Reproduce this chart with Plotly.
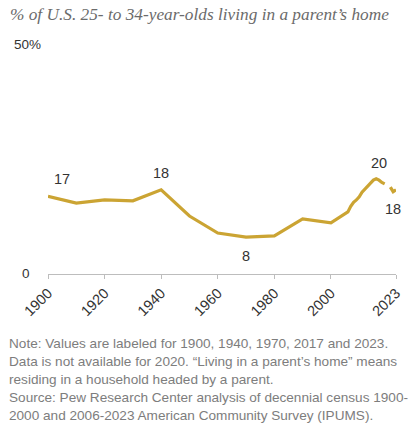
import plotly.graph_objects as go

years = [1900, 1910, 1920, 1930, 1940, 1950, 1960, 1970, 1980, 1990, 2000,
         2006, 2007, 2008, 2009, 2010, 2011, 2012, 2013, 2014, 2015, 2016,
         2017, 2018, 2019, 2020, 2021, 2022, 2023]
share = [16.9, 15.4, 16.1, 15.9, 18.3, 12.6, 8.9, 8.0, 8.3, 12.0, 11.1,
         13.5, 14.7, 15.6, 16.1, 16.8, 17.8, 18.5, 19.2, 19.9, 20.4, 20.7,
         20.4, 19.9, 19.6, None, 18.9, 17.9, 18.3]
label_years = [1900, 1940, 1970, 2017, 2023]
label_text = ["17", "18", "8", "20", "18"]
label_pos = ["above", "above", "below", "above", "below"]
tick_years = [1900, 1920, 1940, 1960, 1980, 2000, 2023]
tick_text = [str(t) for t in tick_years]
title = "% of U.S. 25- to 34-year-olds living in a parent\u2019s home"
notes = [
    "Note: Values are labeled for 1900, 1940, 1970, 2017 and 2023.",
    "Data is not available for 2020. \u201cLiving in a parent\u2019s home\u201d means",
    "residing in a household headed by a parent.",
    "Source: Pew Research Center analysis of decennial census 1900-",
    "2000 and 2006-2023 American Community Survey (IPUMS).",
]

W, H = 415, 426
L, R, T, B = 48, 13, 44, 152
PW, PH = W - L - R, H - T - B


def px(x):
    return (x - L) / PW


def py(y):
    return (H - B - y) / PH


GOLD = "#CBA433"
SANS = "Liberation Sans, Arial, sans-serif"

fig = go.Figure()
fig.add_trace(go.Scatter(
    x=years, y=share, mode="lines", connectgaps=False,
    line=dict(color=GOLD, width=3.2), hoverinfo="skip", showlegend=False,
))

ann = []
for yr, txt, pos in zip(label_years, label_text, label_pos):
    v = share[years.index(yr)]
    ann.append(dict(x=yr, y=v, xref="x", yref="y", text=txt, showarrow=False,
                    yshift=17 if pos == "above" else -19,
                    xshift=14 if yr == 1900 else (-3 if yr == 2023 else 0),
                    font=dict(family=SANS, size=14.5, color="#333333")))

ann.append(dict(x=px(7), y=py(14), xref="paper", yref="paper", text="<i>" + title + "</i>",
                showarrow=False, xanchor="left", yanchor="middle",
                font=dict(family="Liberation Serif, serif", size=17.3, color="#6b6b6b")))
ann.append(dict(x=px(11), y=py(45), xref="paper", yref="paper", text="50%",
                showarrow=False, xanchor="left", yanchor="middle",
                font=dict(family=SANS, size=13.5, color="#333333")))
ann.append(dict(x=px(32), y=py(273), xref="paper", yref="paper", text="0",
                showarrow=False, xanchor="right", yanchor="middle",
                font=dict(family=SANS, size=13.5, color="#333333")))
for i, line in enumerate(notes):
    ann.append(dict(x=px(6), y=py(343 + 18 * i), xref="paper", yref="paper", text=line,
                    showarrow=False, xanchor="left", yanchor="middle",
                    font=dict(family=SANS, size=13.6, color="#7d7d7d")))

fig.update_layout(
    width=W, height=H,
    margin=dict(l=L, r=R, t=T, b=B, pad=0),
    paper_bgcolor="white", plot_bgcolor="white",
    annotations=ann,
    xaxis=dict(range=[1900, 2023], tickvals=tick_years, ticktext=tick_text,
               tickangle=-45, showgrid=False, zeroline=False,
               showline=True, linecolor="#bdbdbd", linewidth=1,
               ticks="outside", ticklen=4, tickcolor="#bdbdbd",
               tickfont=dict(family=SANS, size=14.5, color="#333333")),
    yaxis=dict(range=[0, 50], showgrid=False, zeroline=False, showticklabels=False,
               showline=False),
)

fig.write_html("out.html", config={"displayModeBar": False},
               post_script="document.body.style.margin='0';document.body.style.overflow='hidden';")
